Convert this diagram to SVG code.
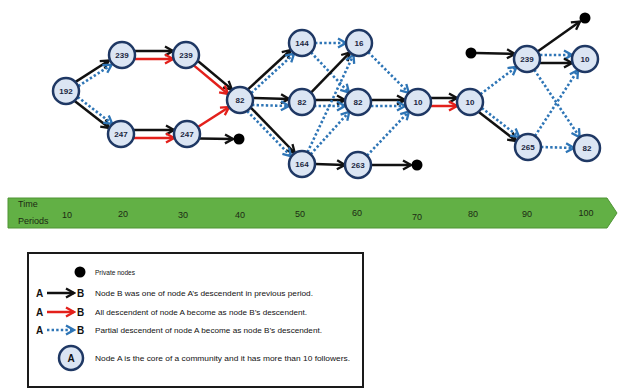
<svg xmlns="http://www.w3.org/2000/svg" width="621" height="390" viewBox="0 0 621 390">
<defs>
<style>
.nd circle{fill:#dbe5f3;stroke:#1f3864;stroke-width:2.5}
.nd text{font-family:"Liberation Sans Narrow","Liberation Sans",sans-serif;font-size:8px;font-weight:bold;fill:#1a2540;text-anchor:middle}
.pd{fill:#000}
.k{stroke:#111;stroke-width:2.5;fill:none;marker-end:url(#ak)}
.r{stroke:#e3201b;stroke-width:2.5;fill:none;marker-end:url(#ar)}
.b{stroke:#2e75b6;stroke-width:2.6;fill:none;stroke-dasharray:2.4 2.2;marker-end:url(#ab)}
.tl{font-family:"Liberation Sans Narrow","Liberation Sans",sans-serif;font-size:9px;fill:#1c2a14}
.lg{font-family:"Liberation Sans Narrow","Liberation Sans",sans-serif;font-size:8px;fill:#111}
.lab{font-family:"Liberation Sans","DejaVu Sans",sans-serif;font-size:10px;font-weight:bold;fill:#111}
</style>
<marker id="ak" viewBox="0 0 12 12" refX="10" refY="6" markerWidth="12" markerHeight="12" markerUnits="userSpaceOnUse" orient="auto"><path d="M2,1.5 L10,6 L2,10.5" fill="none" stroke="#111" stroke-width="2.3"/></marker>
<marker id="ar" viewBox="0 0 12 12" refX="10" refY="6" markerWidth="12" markerHeight="12" markerUnits="userSpaceOnUse" orient="auto"><path d="M2,1.5 L10,6 L2,10.5" fill="none" stroke="#e3201b" stroke-width="2.3"/></marker>
<marker id="ab" viewBox="0 0 12 12" refX="10" refY="6" markerWidth="12" markerHeight="12" markerUnits="userSpaceOnUse" orient="auto"><path d="M2,1.5 L10,6 L2,10.5" fill="none" stroke="#2e75b6" stroke-width="2.3"/></marker>
</defs>
<rect width="621" height="390" fill="#fff"/>

<g id="connectors">
<line class="k" x1="75.6" y1="81.9" x2="108.9" y2="60.5"/>
<line class="b" x1="78.3" y1="86.1" x2="111.6" y2="64.7"/>
<line class="k" x1="74.7" y1="101" x2="109.3" y2="128"/>
<line class="b" x1="77.7" y1="97" x2="112.3" y2="124"/>
<line class="k" x1="134" y1="51" x2="173" y2="51"/>
<line class="r" x1="134" y1="59" x2="173" y2="59"/>
<line class="k" x1="133" y1="130" x2="174" y2="130"/>
<line class="r" x1="133" y1="138" x2="174" y2="138"/>
<line class="k" x1="197.9" y1="61" x2="231.9" y2="89.4"/>
<line class="r" x1="194.1" y1="65.6" x2="228.1" y2="94"/>
<line class="r" x1="197.9" y1="127" x2="229.1" y2="107"/>
<line class="k" x1="199" y1="138.5" x2="233" y2="139"/>
<line class="k" x1="247.9" y1="89.4" x2="290.7" y2="50"/>
<line class="b" x1="251.3" y1="93" x2="294.1" y2="53.6"/>
<line class="k" x1="252" y1="98" x2="289" y2="99"/>
<line class="b" x1="252" y1="105" x2="289" y2="106"/>
<line class="k" x1="250.8" y1="107.6" x2="294.8" y2="153"/>
<line class="b" x1="247.2" y1="111" x2="291.2" y2="156.4"/>
<line class="b" x1="315" y1="43" x2="346" y2="43"/>
<line class="b" x1="311" y1="52.4" x2="349" y2="92.6"/>
<line class="k" x1="311" y1="92.6" x2="350" y2="52.4"/>
<line class="k" x1="315" y1="100" x2="345" y2="100"/>
<line class="b" x1="314" y1="106" x2="345" y2="106"/>
<line class="b" x1="310.7" y1="154.3" x2="349.3" y2="111.7"/>
<line class="b" x1="307.5" y1="152.2" x2="353.5" y2="54.8"/>
<line class="b" x1="368.2" y1="52.2" x2="408.8" y2="92.8"/>
<line class="k" x1="371" y1="100" x2="405" y2="100"/>
<line class="b" x1="371" y1="106" x2="405" y2="106"/>
<line class="b" x1="367" y1="155.6" x2="409" y2="111.4"/>
<line class="k" x1="315" y1="164" x2="345" y2="165"/>
<line class="k" x1="371" y1="165" x2="411" y2="165"/>
<line class="k" x1="430" y1="98" x2="457" y2="98"/>
<line class="r" x1="430" y1="106" x2="457" y2="106"/>
<line class="b" x1="480.4" y1="94.2" x2="516.6" y2="66.8"/>
<line class="k" x1="478.8" y1="112" x2="516.2" y2="141"/>
<line class="b" x1="481.8" y1="108" x2="519.2" y2="137"/>
<line class="k" x1="476" y1="53" x2="515" y2="54"/>
<line class="k" x1="537.6" y1="51.5" x2="580" y2="21.5"/>
<line class="b" x1="540" y1="55" x2="572" y2="55"/>
<line class="k" x1="540" y1="63" x2="572" y2="63"/>
<line class="b" x1="534.3" y1="69.8" x2="579.7" y2="137.2"/>
<line class="b" x1="535" y1="136" x2="578" y2="70"/>
<line class="b" x1="541" y1="147" x2="574" y2="148"/>
</g>

<g id="n192" class="nd"><circle cx="66" cy="91" r="13"/><text x="66" y="94">192</text></g>
<g id="n239a" class="nd"><circle cx="122" cy="55" r="13"/><text x="122" y="58">239</text></g>
<g id="n247a" class="nd"><circle cx="121" cy="134" r="13"/><text x="121" y="137">247</text></g>
<g id="n239b" class="nd"><circle cx="186" cy="55" r="13"/><text x="186" y="58">239</text></g>
<g id="n247b" class="nd"><circle cx="187" cy="134" r="13"/><text x="187" y="137">247</text></g>
<g id="n82a" class="nd"><circle cx="240" cy="100" r="13"/><text x="240" y="103">82</text></g>
<g id="n144" class="nd"><circle cx="302" cy="43" r="13"/><text x="302" y="46">144</text></g>
<g id="n16" class="nd"><circle cx="359" cy="43" r="13"/><text x="359" y="46">16</text></g>
<g id="n82b" class="nd"><circle cx="302" cy="102" r="13"/><text x="302" y="105">82</text></g>
<g id="n82c" class="nd"><circle cx="358" cy="102" r="13"/><text x="358" y="105">82</text></g>
<g id="n164" class="nd"><circle cx="302" cy="164" r="13"/><text x="302" y="167">164</text></g>
<g id="n263" class="nd"><circle cx="358" cy="165" r="13"/><text x="358" y="168">263</text></g>
<g id="n10a" class="nd"><circle cx="418" cy="102" r="13"/><text x="418" y="105">10</text></g>
<g id="n10b" class="nd"><circle cx="470" cy="102" r="13"/><text x="470" y="105">10</text></g>
<g id="n239c" class="nd"><circle cx="527" cy="59" r="13"/><text x="527" y="62">239</text></g>
<g id="n10c" class="nd"><circle cx="585" cy="59" r="13"/><text x="585" y="62">10</text></g>
<g id="n265" class="nd"><circle cx="528" cy="147" r="13"/><text x="528" y="150">265</text></g>
<g id="n82d" class="nd"><circle cx="587" cy="148" r="13"/><text x="587" y="151">82</text></g>

<g id="p1"><circle class="pd" cx="239" cy="139" r="5.5"/></g>
<g id="p2"><circle class="pd" cx="417" cy="165" r="5.5"/></g>
<g id="p3"><circle class="pd" cx="585" cy="18" r="5.5"/></g>
<g id="p4"><circle class="pd" cx="471" cy="53" r="5.5"/></g>

<g id="timeline">
<polygon points="8,198 607,198 617,213 607,228 8,228" fill="#62b045" stroke="#4f9434" stroke-width="1"/>
<text class="tl" x="18" y="207">Time</text>
<text class="tl" x="18" y="224">Periods</text>
<text class="tl" x="67" y="218" text-anchor="middle">10</text>
<text class="tl" x="123" y="217" text-anchor="middle">20</text>
<text class="tl" x="183" y="218" text-anchor="middle">30</text>
<text class="tl" x="240" y="218" text-anchor="middle">40</text>
<text class="tl" x="300" y="217" text-anchor="middle">50</text>
<text class="tl" x="357" y="216" text-anchor="middle">60</text>
<text class="tl" x="417" y="220" text-anchor="middle">70</text>
<text class="tl" x="473" y="217" text-anchor="middle">80</text>
<text class="tl" x="527" y="217" text-anchor="middle">90</text>
<text class="tl" x="586" y="216" text-anchor="middle">100</text>
</g>

<g id="legend">
<rect x="28" y="253" width="335" height="134" fill="#fff" stroke="#1a1a1a" stroke-width="2"/>
<circle cx="80" cy="272" r="5.5" fill="#000"/>
<text class="lg" x="95" y="275" textLength="40" lengthAdjust="spacingAndGlyphs">Private nodes</text>
<text class="lab" x="36" y="297">A</text>
<line x1="47" y1="293" x2="74" y2="293" stroke="#111" stroke-width="2.5" marker-end="url(#ak)"/>
<text class="lab" x="77" y="297">B</text>
<text class="lg" x="95" y="296" textLength="218" lengthAdjust="spacingAndGlyphs">Node B was one of node A’s descendent in previous period.</text>
<text class="lab" x="36" y="316">A</text>
<line x1="47" y1="312" x2="74" y2="312" stroke="#e3201b" stroke-width="2.5" marker-end="url(#ar)"/>
<text class="lab" x="77" y="316">B</text>
<text class="lg" x="95" y="315" textLength="212" lengthAdjust="spacingAndGlyphs">All descendent of node A become as node B’s descendent.</text>
<text class="lab" x="36" y="334">A</text>
<line x1="47" y1="330" x2="74" y2="330" stroke="#2e75b6" stroke-width="2.5" stroke-dasharray="2.4 2.2" marker-end="url(#ab)"/>
<text class="lab" x="77" y="334">B</text>
<text class="lg" x="95" y="333" textLength="227" lengthAdjust="spacingAndGlyphs">Partial descendent of node A become as node B’s descendent.</text>
<circle cx="71" cy="358" r="12" fill="#dbe5f3" stroke="#1f3864" stroke-width="2.5"/>
<text class="lab" x="71" y="362" text-anchor="middle" fill="#1a2540">A</text>
<text class="lg" x="95" y="361" textLength="255" lengthAdjust="spacingAndGlyphs">Node A is the core of a community and it has more than 10 followers.</text>
</g>
</svg>
